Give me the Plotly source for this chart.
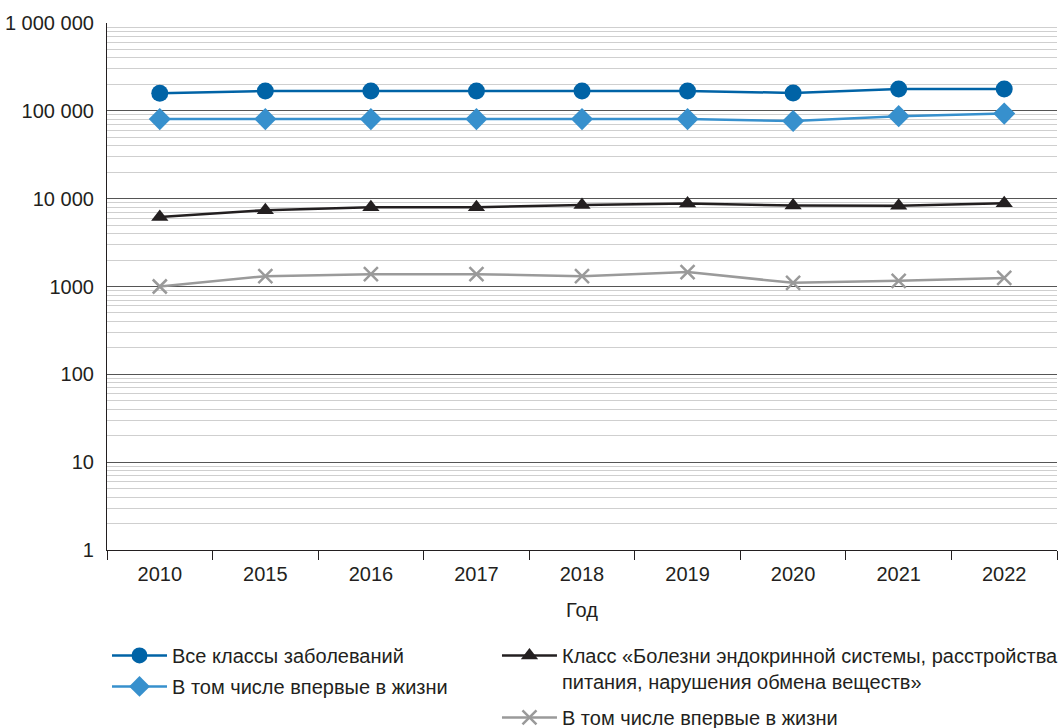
import plotly.graph_objects as go

years = ["2010", "2015", "2016", "2017", "2018", "2019", "2020", "2021", "2022"]
all_classes = [159000, 168000, 168000, 168000, 168000, 168000, 160000, 177000, 177000]
all_first = [80500, 80500, 80500, 80500, 80500, 80500, 76500, 87000, 93000]
endo = [6200, 7400, 8000, 8000, 8450, 8800, 8350, 8300, 8850]
endo_first = [1000, 1310, 1380, 1380, 1310, 1460, 1100, 1160, 1250]

ytick_vals = [1, 10, 100, 1000, 10000, 100000, 1000000]
ytick_text = ["1", "10", "100", "1000", "10 000", "100 000", "1 000 000"]

names = [
    "Все классы заболеваний",
    "В том числе впервые в жизни",
    "Класс «Болезни эндокринной системы, расстройства<br>питания, нарушения обмена веществ»",
    "В том числе впервые в жизни",
]

FONT = "Liberation Sans, Arial, sans-serif"
TXT = "#231f20"

fig = go.Figure()
fig.add_trace(go.Scatter(x=years, y=all_classes, name=names[0], mode="lines+markers",
                         line=dict(color="#0063a6", width=2.5),
                         marker=dict(symbol="circle", size=17, color="#0063a6"),
                         legend="legend", legendgroup="a"))
fig.add_trace(go.Scatter(x=years, y=all_first, name=names[1], mode="lines+markers",
                         line=dict(color="#3790cd", width=2.5),
                         marker=dict(symbol="diamond", size=17, color="#3790cd"),
                         legend="legend", legendgroup="b"))
fig.add_trace(go.Scatter(x=years, y=endo, name=names[2], mode="lines+markers",
                         line=dict(color="#231f20", width=2.5),
                         marker=dict(symbol="triangle-up", size=15, color="#231f20"),
                         legend="legend2", legendgroup="c"))
fig.add_trace(go.Scatter(x=years, y=endo_first, name=names[3], mode="lines+markers",
                         line=dict(color="#9a9a9a", width=2.5),
                         marker=dict(symbol="x-thin", size=14, color="#9a9a9a",
                                     line=dict(color="#9a9a9a", width=2.5)),
                         legend="legend2", legendgroup="d"))

fig.update_layout(
    width=1059, height=728,
    margin=dict(l=107, r=2, t=23, b=178, autoexpand=False),
    paper_bgcolor="white", plot_bgcolor="white",
    font=dict(family=FONT, size=20, color=TXT),
    showlegend=True,
    legend=dict(x=0.0, y=-0.163, xanchor="left", yanchor="top",
                font=dict(family=FONT, size=20, color=TXT),
                itemwidth=55, bgcolor="rgba(0,0,0,0)", tracegroupgap=2),
    legend2=dict(x=0.4105, y=-0.163, xanchor="left", yanchor="top",
                 font=dict(family=FONT, size=20, color=TXT),
                 itemwidth=55, valign="top", bgcolor="rgba(0,0,0,0)", tracegroupgap=7),
)

fig.update_xaxes(
    type="category", range=[-0.5, 8.5], automargin=False,
    showline=True, linecolor="#231f20", linewidth=1.2,
    ticks="outside", tickson="boundaries", ticklen=9, tickcolor="#231f20", tickwidth=1.2,
    ticklabelstandoff=6,
    showgrid=False, zeroline=False,
    title=dict(text="Год", standoff=18, font=dict(family=FONT, size=20, color=TXT)),
    tickfont=dict(family=FONT, size=20, color=TXT),
)
fig.update_yaxes(
    type="log", range=[0, 6], automargin=False,
    tickvals=ytick_vals, ticktext=ytick_text,
    showline=True, linecolor="#231f20", linewidth=1.2,
    ticks="", ticklabelstandoff=8,
    showgrid=True, gridcolor="#555555", gridwidth=1,
    minor=dict(dtick="D1", showgrid=True, gridcolor="#cfcfcf", gridwidth=1, ticks=""),
    zeroline=False,
    tickfont=dict(family=FONT, size=20, color=TXT),
)

fig.write_html("out.html")
